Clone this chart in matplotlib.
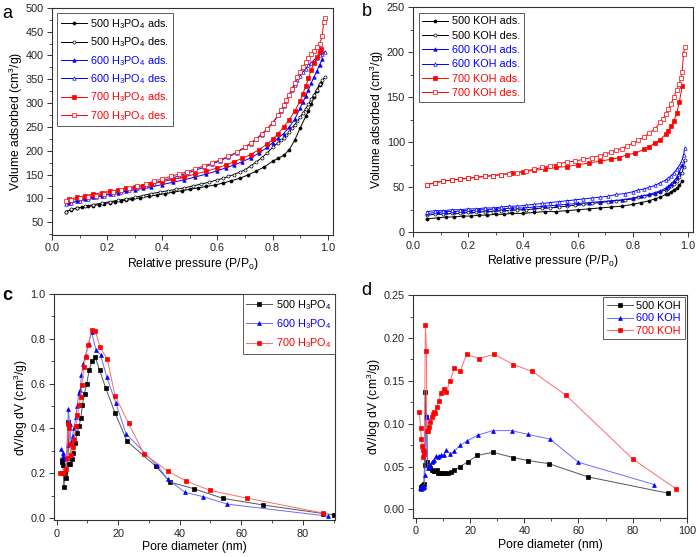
import matplotlib.pyplot as plt
from matplotlib.ticker import MultipleLocator

plt.rcParams["font.family"] = ["Liberation Sans", "DejaVu Sans"]
plt.rcParams["mathtext.default"] = "regular"

# ---- panel a: H3PO4 isotherms ----
a500_ads_p = [0.05, 0.07, 0.09, 0.11, 0.13, 0.15, 0.17, 0.19, 0.21, 0.23, 0.25, 0.27, 0.29, 0.32, 0.35,
              0.38, 0.41, 0.44, 0.47, 0.50, 0.53, 0.56, 0.59, 0.62, 0.65, 0.68, 0.71, 0.74, 0.77, 0.80,
              0.82, 0.84, 0.86, 0.88, 0.90, 0.92, 0.93, 0.94, 0.95, 0.96, 0.97, 0.975]
a500_ads_v = [72, 76, 79, 81, 83, 85, 87, 89, 91, 93, 95, 96, 98, 101, 104,
              107, 110, 113, 116, 119, 122, 125, 128, 132, 137, 142, 149, 157, 166, 178,
              184, 190, 202, 222, 248, 272, 284, 298, 312, 325, 337, 342]
a500_des_p = [0.99, 0.98, 0.97, 0.96, 0.95, 0.94, 0.93, 0.92, 0.91, 0.90, 0.89, 0.88, 0.87, 0.86, 0.85,
              0.84, 0.83, 0.82, 0.80, 0.78, 0.76, 0.74, 0.72, 0.70, 0.68, 0.66, 0.64, 0.62, 0.60, 0.57,
              0.54, 0.51, 0.48, 0.45, 0.42, 0.39, 0.36, 0.33, 0.30, 0.27, 0.24, 0.21, 0.18, 0.15, 0.12,
              0.09, 0.07, 0.05]
a500_des_v = [355, 348, 340, 328, 318, 308, 298, 288, 279, 270, 262, 255, 247, 239, 232,
              226, 222, 217, 207, 195, 185, 176, 168, 160, 155, 150, 146, 142, 139, 134,
              130, 126, 122, 119, 116, 113, 110, 106, 102, 99, 96, 93, 90, 87, 83,
              80, 77, 72]
a600_ads_p = [0.06, 0.09, 0.12, 0.15, 0.18, 0.21, 0.24, 0.27, 0.30, 0.33, 0.36, 0.40, 0.44, 0.48, 0.52,
              0.56, 0.60, 0.63, 0.66, 0.69, 0.72, 0.75, 0.78, 0.80, 0.82, 0.84, 0.86, 0.88, 0.90, 0.91,
              0.92, 0.93, 0.94, 0.95, 0.96, 0.97, 0.98]
a600_ads_v = [91, 95, 99, 103, 106, 109, 112, 115, 118, 121, 124, 129, 134, 139, 145,
              151, 158, 164, 170, 177, 185, 195, 207, 217, 227, 236, 249, 266, 290, 302,
              315, 328, 342, 355, 367, 380, 392]
a600_des_p = [0.99, 0.98, 0.97, 0.96, 0.95, 0.94, 0.93, 0.92, 0.91, 0.90, 0.89, 0.88, 0.87, 0.86, 0.85,
              0.84, 0.83, 0.82, 0.80, 0.78, 0.76, 0.74, 0.72, 0.70, 0.67, 0.64, 0.61, 0.58, 0.55, 0.52,
              0.49, 0.46, 0.43, 0.40, 0.37, 0.34, 0.31, 0.28, 0.25, 0.22, 0.19, 0.16, 0.13, 0.10, 0.07,
              0.05]
a600_des_v = [408, 404, 400, 395, 390, 385, 379, 372, 365, 357, 349, 339, 328, 316, 305,
              294, 284, 274, 258, 245, 234, 224, 215, 207, 196, 187, 179, 172, 165, 159,
              153, 147, 142, 137, 132, 127, 122, 118, 114, 110, 106, 102, 98, 95, 91,
              88]
a700_ads_p = [0.06, 0.09, 0.12, 0.15, 0.18, 0.21, 0.24, 0.27, 0.30, 0.33, 0.36, 0.40, 0.44, 0.48, 0.52,
              0.56, 0.60, 0.63, 0.66, 0.69, 0.72, 0.75, 0.78, 0.80, 0.82, 0.84, 0.86, 0.88, 0.90, 0.91,
              0.92, 0.93, 0.94, 0.95, 0.96, 0.97, 0.975]
a700_ads_v = [98, 102, 106, 109, 112, 115, 118, 121, 124, 127, 130, 135, 140, 145, 151,
              157, 164, 170, 177, 184, 192, 202, 214, 224, 236, 250, 265, 283, 305, 320,
              336, 352, 370, 384, 396, 408, 413]
a700_des_p = [0.99, 0.985, 0.98, 0.97, 0.96, 0.95, 0.94, 0.93, 0.92, 0.91, 0.90, 0.89, 0.88, 0.87, 0.86,
              0.85, 0.84, 0.83, 0.82, 0.80, 0.78, 0.76, 0.74, 0.72, 0.70, 0.67, 0.64, 0.61, 0.58, 0.55,
              0.52, 0.49, 0.46, 0.43, 0.40, 0.37, 0.34, 0.31, 0.28, 0.25, 0.22, 0.19, 0.16, 0.13, 0.10,
              0.07, 0.05]
a700_des_v = [479, 470, 440, 425, 417, 410, 403, 395, 386, 376, 366, 355, 343, 330, 318,
              306, 295, 285, 275, 259, 246, 235, 225, 216, 208, 197, 188, 181, 174, 168,
              162, 156, 151, 146, 141, 136, 131, 126, 122, 118, 114, 110, 106, 103, 100,
              97, 95]

# ---- panel b: KOH isotherms ----
b_ads_p = [0.05, 0.09, 0.12, 0.15, 0.18, 0.21, 0.24, 0.27, 0.30, 0.33, 0.36, 0.40, 0.44, 0.48, 0.52,
           0.56, 0.60, 0.64, 0.68, 0.72, 0.76, 0.80, 0.83, 0.86, 0.88, 0.90, 0.92, 0.93, 0.94, 0.95,
           0.96, 0.97, 0.98]
b500_ads_v = [15, 16, 17, 17, 18, 18, 19, 19, 20, 20, 21, 21, 22, 23, 23,
              24, 25, 26, 27, 28, 29, 31, 33, 35, 37, 39, 42, 43, 45, 47,
              49, 52, 57]
b600_ads_v = [21, 22, 23, 23, 24, 24, 25, 25, 26, 26, 27, 27, 28, 29, 30,
              31, 32, 33, 34, 35, 36, 38, 40, 42, 44, 46, 49, 51, 54, 57,
              61, 67, 75]
b_des_p = [0.99, 0.985, 0.98, 0.97, 0.96, 0.95, 0.94, 0.93, 0.92, 0.90, 0.88, 0.86, 0.84, 0.82, 0.80,
           0.77, 0.74, 0.71, 0.68, 0.65, 0.62, 0.59, 0.56, 0.53, 0.50, 0.47, 0.44, 0.41, 0.38, 0.35,
           0.32, 0.29, 0.26, 0.23, 0.20, 0.17, 0.14, 0.11, 0.08, 0.05]
b500_des_v = [80, 73, 66, 61, 57, 54, 51, 49, 47, 45, 43, 41, 40, 39, 37,
              36, 35, 34, 33, 32, 31, 30, 29, 28, 27, 27, 26, 25, 25, 24,
              24, 23, 23, 22, 22, 21, 21, 20, 20, 19]
b600_des_v = [94, 86, 80, 74, 70, 66, 63, 60, 58, 55, 52, 50, 48, 47, 45,
              43, 42, 40, 39, 38, 37, 36, 35, 34, 33, 32, 31, 30, 29, 29,
              28, 27, 27, 26, 26, 25, 25, 24, 24, 23]
b700_ads_p = [0.05, 0.08, 0.11, 0.14, 0.17, 0.20, 0.23, 0.26, 0.29, 0.32, 0.36, 0.40, 0.44, 0.48, 0.52,
              0.56, 0.60, 0.64, 0.68, 0.72, 0.75, 0.78, 0.81, 0.84, 0.86, 0.88, 0.90, 0.92, 0.93, 0.94,
              0.95, 0.96, 0.97, 0.98]
b700_ads_v = [53, 55, 57, 58, 59, 60, 61, 62, 63, 64, 66, 67, 69, 70, 72,
              73, 75, 77, 79, 81, 83, 86, 88, 92, 95, 99, 103, 109, 113, 118,
              124, 132, 145, 162]
b700_des_p = [0.99, 0.985, 0.98, 0.975, 0.97, 0.96, 0.95, 0.94, 0.93, 0.92, 0.91, 0.90, 0.88, 0.86, 0.84,
              0.82, 0.80, 0.78, 0.76, 0.74, 0.72, 0.70, 0.68, 0.65, 0.62, 0.59, 0.56, 0.53, 0.50, 0.47,
              0.44, 0.41, 0.38, 0.35, 0.32, 0.29, 0.26, 0.23, 0.20, 0.17, 0.14, 0.11, 0.08, 0.05]
b700_des_v = [206, 198, 178, 171, 165, 158, 150, 143, 137, 131, 126, 122, 115, 110, 106,
              102, 99, 96, 93, 91, 89, 87, 85, 83, 81, 79, 78, 76, 74, 72,
              70, 68, 66, 65, 64, 63, 62, 61, 60, 59, 58, 57, 55, 53]

# ---- panel c: H3PO4 pore size distribution ----
c500_d = [1.7, 1.9, 2.1, 2.4, 2.8, 3.2, 3.7, 4.1, 4.5, 5.0, 5.5, 6.0, 6.7, 7.3, 7.9, 8.4,
          9.1, 9.8, 10.6, 11.5, 12.6, 14.0, 16.0, 19.0, 22.9, 32.2, 37.0, 44.8, 54.0, 67.2, 86.7, 90.0]
c500_v = [0.26, 0.25, 0.235, 0.138, 0.20, 0.18, 0.43, 0.24, 0.24, 0.265, 0.29, 0.335, 0.38, 0.41, 0.445, 0.505,
          0.555, 0.60, 0.66, 0.70, 0.718, 0.66, 0.58, 0.47, 0.343, 0.232, 0.16, 0.13, 0.088, 0.058, 0.02, 0.015]
c600_d = [1.6, 2.0, 2.2, 2.7, 3.2, 3.6, 3.8, 4.3, 4.7, 5.2, 5.6, 6.3, 6.7, 7.3, 7.7, 8.1,
          8.7, 9.5, 10.4, 11.4, 12.8, 14.3, 16.3, 19.3, 22.6, 32.5, 36.2, 41.7, 47.7, 55.5, 88.3]
c600_v = [0.307, 0.29, 0.275, 0.263, 0.27, 0.327, 0.487, 0.42, 0.34, 0.367, 0.40, 0.45, 0.50, 0.56, 0.57, 0.64,
          0.69, 0.73, 0.777, 0.832, 0.75, 0.73, 0.63, 0.513, 0.376, 0.237, 0.172, 0.115, 0.095, 0.062, 0.008]
c700_d = [1.1, 1.8, 2.5, 3.0, 3.3, 3.6, 4.1, 4.3, 4.7, 5.2, 5.6, 6.3, 6.8, 7.4, 7.8, 8.2,
          8.9, 9.5, 10.3, 11.4, 12.6, 14.1, 16.5, 19.0, 23.4, 28.4, 36.3, 42.0, 49.9, 61.8, 86.7]
c700_v = [0.20, 0.20, 0.20, 0.22, 0.267, 0.42, 0.40, 0.33, 0.28, 0.316, 0.35, 0.41, 0.46, 0.505, 0.54, 0.595,
          0.673, 0.72, 0.773, 0.84, 0.836, 0.765, 0.709, 0.547, 0.423, 0.287, 0.208, 0.166, 0.123, 0.089, 0.022]

# ---- panel d: KOH pore size distribution ----
d500_d = [1.8, 2.0, 2.3, 2.6, 2.9, 3.2, 3.5, 3.8, 4.2, 4.7, 5.3, 6.0, 6.6, 7.1, 7.7, 8.3,
          9.0, 9.8, 10.8, 11.8, 12.8, 14.1, 16.3, 19.1, 22.7, 28.4, 36.0, 41.5, 49.0, 63.5, 93.0]
d500_v = [0.025, 0.026, 0.027, 0.029, 0.03, 0.052, 0.137, 0.108, 0.055, 0.05, 0.048, 0.046, 0.045, 0.0445, 0.046, 0.042,
          0.043, 0.043, 0.043, 0.043, 0.0435, 0.0455, 0.050, 0.0555, 0.063, 0.0667, 0.0605, 0.057, 0.0535, 0.038, 0.019]
d600_d = [1.6, 1.9, 2.2, 2.5, 2.8, 3.0, 3.3, 3.7, 4.0, 4.4, 4.8, 5.3, 5.8, 6.3, 6.8, 7.4,
          8.0, 8.6, 9.3, 10.2, 11.2, 12.6, 14.2, 16.3, 19.0, 23.0, 28.5, 35.3, 41.5, 49.5, 60.0, 88.0]
d600_v = [0.025, 0.024, 0.026, 0.025, 0.027, 0.026, 0.040, 0.110, 0.108, 0.048, 0.050, 0.052, 0.055, 0.056, 0.058, 0.062,
          0.061, 0.062, 0.063, 0.064, 0.069, 0.065, 0.068, 0.075, 0.080, 0.087, 0.092, 0.092, 0.0875, 0.082, 0.055, 0.029]
d700_d = [1.3, 1.7, 2.05, 2.3, 2.55, 2.7, 2.85, 3.1, 3.5, 3.9, 4.0, 4.5, 5.0, 5.3, 5.9, 6.3, 6.7,
          7.2, 7.7, 8.4, 9.3, 10.2, 11.2, 12.6, 14.2, 16.3, 18.7, 23.2, 29.0, 36.0, 43.0, 55.5, 80.0, 96.0]
d700_v = [0.1135, 0.095, 0.082, 0.0745, 0.069, 0.061, 0.065, 0.068, 0.215, 0.185, 0.092, 0.092, 0.096, 0.1025, 0.108, 0.111, 0.1135,
          0.113, 0.12, 0.127, 0.136, 0.14, 0.137, 0.15, 0.165, 0.161, 0.181, 0.176, 0.181, 0.169, 0.161, 0.133, 0.059, 0.024]

BLK, BLU, RED = "#000000", "#0000ff", "#ff0000"

fig = plt.figure(figsize=(6.98, 5.57), dpi=100)
ax_a = fig.add_axes([0.0745, 0.578, 0.403, 0.408])
ax_b = fig.add_axes([0.592, 0.583, 0.401, 0.404])
ax_c = fig.add_axes([0.077, 0.066, 0.403, 0.406])
ax_d = fig.add_axes([0.592, 0.070, 0.392, 0.400])


def iso(ax, p, v, color, marker, filled, label):
    ax.plot(p, v, color=color, lw=0.7, marker=marker, ms=2.5 if marker != "o" else 2.2,
            mfc=color if filled else "white", mec=color, mew=0.5, label=label)


def style(ax, xlab, ylab):
    for s in ax.spines.values():
        s.set_linewidth(0.8)
        s.set_color("#333333")
    ax.tick_params(which="both", direction="out", labelsize=7.8, colors="#333333", labelcolor="#222222")
    ax.tick_params(which="major", length=3.5, width=0.7, pad=2.5)
    ax.tick_params(which="minor", length=2, width=0.6)
    ax.set_xlabel(xlab, fontsize=8.7, labelpad=2)
    ax.set_ylabel(ylab, fontsize=8.7, labelpad=0.5)


def legend(ax, loc, colors, pad=0.5, spacing=0.45):
    leg = ax.legend(loc=loc, fontsize=7.8, frameon=True, fancybox=False, handlelength=2.4,
                    handletextpad=0.3, borderpad=0.35, labelspacing=spacing, borderaxespad=pad)
    leg.get_frame().set_edgecolor("#333333")
    leg.get_frame().set_linewidth(0.7)
    for t, c in zip(leg.get_texts(), colors):
        t.set_color(c)


# panel a
iso(ax_a, a500_ads_p, a500_ads_v, BLK, "o", True, "500 H$_3$PO$_4$ ads.")
iso(ax_a, a500_des_p, a500_des_v, BLK, "o", False, "500 H$_3$PO$_4$ des.")
iso(ax_a, a600_ads_p, a600_ads_v, BLU, "^", True, "600 H$_3$PO$_4$ ads.")
iso(ax_a, a600_des_p, a600_des_v, BLU, "^", False, "600 H$_3$PO$_4$ des.")
iso(ax_a, a700_ads_p, a700_ads_v, RED, "s", True, "700 H$_3$PO$_4$ ads.")
iso(ax_a, a700_des_p, a700_des_v, RED, "s", False, "700 H$_3$PO$_4$ des.")
ax_a.set_xlim(0, 1.02)
ax_a.set_ylim(23, 500)
ax_a.xaxis.set_major_locator(MultipleLocator(0.2))
ax_a.xaxis.set_minor_locator(MultipleLocator(0.1))
ax_a.yaxis.set_major_locator(MultipleLocator(50))
ax_a.yaxis.set_minor_locator(MultipleLocator(25))
ax_a.set_yticks([50, 100, 150, 200, 250, 300, 350, 400, 450, 500])
style(ax_a, "Relative pressure (P/P$_0$)", "Volume adsorbed (cm$^3$/g)")
legend(ax_a, "upper left", [BLK, BLK, BLU, BLU, RED, RED], spacing=0.42)

# panel b
iso(ax_b, b_ads_p, b500_ads_v, BLK, "o", True, "500 KOH ads.")
iso(ax_b, b_des_p, b500_des_v, BLK, "o", False, "500 KOH des.")
iso(ax_b, b_ads_p, b600_ads_v, BLU, "^", True, "600 KOH ads.")
iso(ax_b, b_des_p, b600_des_v, BLU, "^", False, "600 KOH ads.")
iso(ax_b, b700_ads_p, b700_ads_v, RED, "s", True, "700 KOH ads.")
iso(ax_b, b700_des_p, b700_des_v, RED, "s", False, "700 KOH des.")
ax_b.set_xlim(0, 1.02)
ax_b.set_ylim(0, 250)
ax_b.xaxis.set_major_locator(MultipleLocator(0.2))
ax_b.xaxis.set_minor_locator(MultipleLocator(0.1))
ax_b.yaxis.set_major_locator(MultipleLocator(50))
ax_b.yaxis.set_minor_locator(MultipleLocator(25))
style(ax_b, "Relative pressure (P/P$_0$)", "Volume adsorbed (cm$^3$/g)")
legend(ax_b, "upper left", [BLK, BLK, BLU, BLU, RED, RED], spacing=0.4)


def psd(ax, d, v, color, lcolor, marker, label):
    ax.plot(d, v, color=lcolor, lw=0.7, marker=marker, ms=2.8, mfc=color, mec=color, mew=0.5, label=label)


# panel c
psd(ax_c, c500_d, c500_v, BLK, "#555555", "s", "500 H$_3$PO$_4$")
psd(ax_c, c600_d, c600_v, BLU, "#6b6bff", "^", "600 H$_3$PO$_4$")
psd(ax_c, c700_d, c700_v, RED, "#ff6b6b", "s", "700 H$_3$PO$_4$")
ax_c.set_xlim(-0.9, 90.5)
ax_c.set_ylim(-0.01, 1.0)
ax_c.xaxis.set_major_locator(MultipleLocator(20))
ax_c.xaxis.set_minor_locator(MultipleLocator(10))
ax_c.yaxis.set_major_locator(MultipleLocator(0.2))
ax_c.yaxis.set_minor_locator(MultipleLocator(0.1))
ax_c.yaxis.set_major_formatter(plt.FormatStrFormatter("%.1f"))
style(ax_c, "Pore diameter (nm)", "dV/log dV (cm$^3$/g)")
legend(ax_c, "upper right", [BLK, BLU, RED], pad=0.0, spacing=0.5)

# panel d
psd(ax_d, d500_d, d500_v, BLK, "#555555", "s", "500 KOH")
psd(ax_d, d600_d, d600_v, BLU, "#6b6bff", "^", "600 KOH")
psd(ax_d, d700_d, d700_v, RED, "#ff6b6b", "s", "700 KOH")
ax_d.set_xlim(-1, 100)
ax_d.set_ylim(-0.01, 0.25)
ax_d.xaxis.set_major_locator(MultipleLocator(20))
ax_d.xaxis.set_minor_locator(MultipleLocator(10))
ax_d.yaxis.set_major_locator(MultipleLocator(0.05))
ax_d.yaxis.set_minor_locator(MultipleLocator(0.025))
ax_d.yaxis.set_major_formatter(plt.FormatStrFormatter("%.2f"))
style(ax_d, "Pore diameter (nm)", "dV/log dV (cm$^3$/g)")
legend(ax_d, "upper right", [BLK, BLU, RED], pad=0.2, spacing=0.2)

# panel letters
fig.text(0.003, 0.975, "a", fontsize=13, va="center")
fig.text(0.518, 0.980, "b", fontsize=13, va="center")
fig.text(0.003, 0.470, "c", fontsize=13, va="center", fontweight="bold")
fig.text(0.518, 0.478, "d", fontsize=13, va="center")

fig.savefig("out.png", dpi=100)
